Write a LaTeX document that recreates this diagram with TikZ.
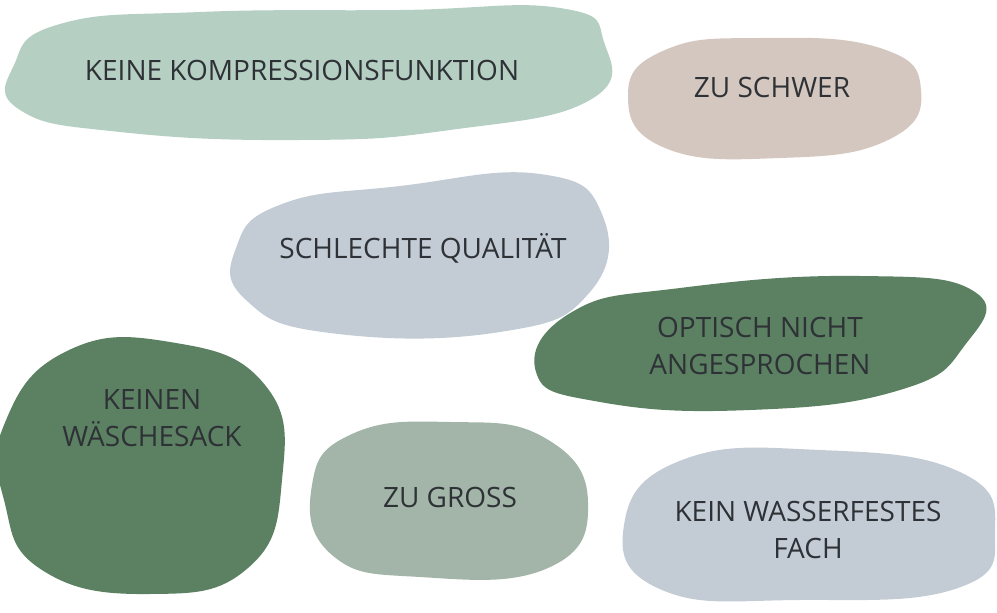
\documentclass[tikz,border=0pt]{standalone}
\usepackage{fontspec}
\setmainfont{Open Sans}
\definecolor{blobmint}{HTML}{B6CFC3}
\definecolor{blobsand}{HTML}{D4C7BF}
\definecolor{blobsky}{HTML}{C3CCD5}
\definecolor{blobpine}{HTML}{5B8162}
\definecolor{blobsage}{HTML}{A2B5A8}
\definecolor{labeltext}{HTML}{2E3236}
\tikzstyle{blob_label}=[text=labeltext,
                          align=center,
                          font=\fontsize{28}{37}\selectfont]
\begin{document}
\begin{tikzpicture}[x=1pt, y=-1pt]
    \useasboundingbox (0,0) rectangle (997,613);

    \fill[blobmint] plot[smooth cycle, tension=0.8] coordinates {(14,65) (60,24) (200,12) (400,10) (560,8) (604,42) (590,100) (450,130) (300,140) (120,132) (20,110)};
    \fill[blobsand] plot[smooth cycle, tension=0.8] coordinates {(628,95) (665,50) (760,38) (880,48) (921,90) (888,140) (780,158) (665,148)};
    \fill[blobsky] plot[smooth cycle, tension=0.8] coordinates {(236,248) (282,204) (400,186) (540,174) (602,214) (590,292) (500,332) (330,333) (246,300)};
    \fill[blobpine] plot[smooth cycle, tension=0.8] coordinates {(536,372) (572,312) (680,288) (860,276) (975,292) (965,345) (900,390) (750,410) (600,402)};
    \fill[blobpine] plot[smooth cycle, tension=0.8] coordinates {(4,425) (65,352) (170,342) (265,385) (282,480) (248,568) (150,594) (42,570) (4,500)};
    \fill[blobsage] plot[smooth cycle, tension=0.8] coordinates {(312,485) (352,434) (450,422) (545,438) (588,502) (548,568) (420,577) (332,555)};
    \fill[blobsky] plot[smooth cycle, tension=0.8] coordinates {(624,525) (682,460) (820,450) (960,472) (995,532) (958,588) (800,600) (662,590)};

    \node at (302,70) (label_kompression) [blob_label] {KEINE KOMPRESSIONSFUNKTION};
    \node at (772,87) (label_schwer) [blob_label] {ZU SCHWER};
    \node at (423,248) (label_qualitaet) [blob_label] {SCHLECHTE QUALITÄT};
    \node at (760,346) (label_optisch) [blob_label] {OPTISCH NICHT\\ANGESPROCHEN};
    \node at (152,418) (label_waeschesack) [blob_label] {KEINEN\\WÄSCHESACK};
    \node at (450,497) (label_gross) [blob_label] {ZU GROSS};
    \node at (808,530) (label_fach) [blob_label] {KEIN WASSERFESTES\\FACH};
  \end{tikzpicture}
\end{document}
